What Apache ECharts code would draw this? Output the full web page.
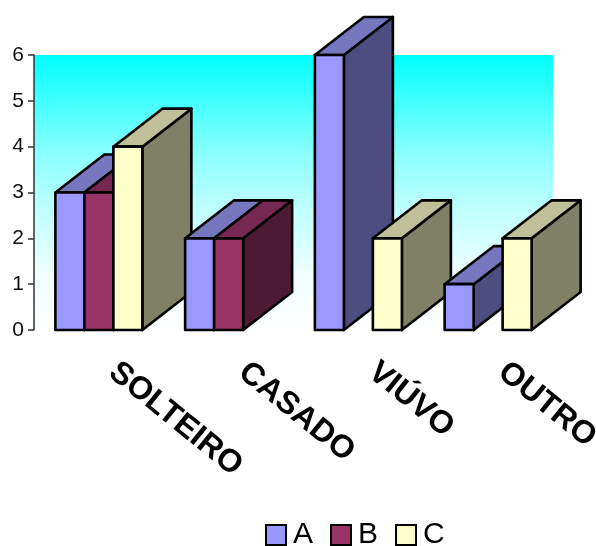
<!DOCTYPE html>
<html>
<head>
<meta charset="utf-8">
<style>
  html, body { margin: 0; padding: 0; background: #fff; }
  #chart { width: 596px; height: 546px; }
</style>
<script src="https://cdn.jsdelivr.net/npm/echarts@6/dist/echarts.min.js"></script>
</head>
<body>
<div id="chart"></div>
<script>
const categories = ['SOLTEIRO', 'CASADO', 'VIÚVO', 'OUTRO'];
const seriesNames = ['A', 'B', 'C'];
const valuesA = [3, 2, 6, 1];
const valuesB = [3, 2, null, null];
const valuesC = [4, null, 2, 2];
const yTicks = [0, 1, 2, 3, 4, 5, 6];

const frontColors = ['#9999ff', '#993366', '#ffffcc'];
const topColors = ['#7777bf', '#772850', '#bfbf99'];
const sideColors = ['#4d4d80', '#4d1a33', '#808066'];

const DEPTH_X = 49;
const DEPTH_Y = 38;
const BAR_SHARE = 0.2235;

const chart = echarts.init(document.getElementById('chart'), null, { renderer: 'canvas' });

// extruded bar: front, top and side faces, later categories sit in front
function renderBar(seriesIdx) {
    return function (params, api) {
        const cat = api.value(0);
        const val = api.value(1);
        if (val === null || isNaN(val)) return;

        const barW = api.size([1, 0])[0] * BAR_SHARE;
        const center = api.coord([cat, 0]);
        const x0 = center[0] + (seriesIdx - 1.5) * barW;
        const x1 = x0 + barW;
        const yBase = center[1];
        const yTop = api.coord([cat, val])[1];
        const z2 = cat * 10 + seriesIdx;
        const stroke = { stroke: '#000', lineWidth: 2.6, lineJoin: 'round' };

        const face = (points, fill) => ({
            type: 'polygon',
            z2: z2,
            shape: { points: points },
            style: Object.assign({ fill: fill }, stroke)
        });

        return {
            type: 'group',
            children: [
                face([[x1, yBase], [x1, yTop], [x1 + DEPTH_X, yTop - DEPTH_Y], [x1 + DEPTH_X, yBase - DEPTH_Y]], sideColors[seriesIdx]),
                face([[x0, yTop], [x1, yTop], [x1 + DEPTH_X, yTop - DEPTH_Y], [x0 + DEPTH_X, yTop - DEPTH_Y]], topColors[seriesIdx]),
                face([[x0, yBase], [x1, yBase], [x1, yTop], [x0, yTop]], frontColors[seriesIdx])
            ]
        };
    };
}

function makeSeries(values, idx) {
    return {
        name: seriesNames[idx],
        type: 'custom',
        clip: false,
        renderItem: renderBar(idx),
        encode: { x: 0, y: 1 },
        itemStyle: { color: frontColors[idx], borderColor: '#000', borderWidth: 2.6 },
        data: values.map((v, i) => [i, v])
    };
}

chart.setOption({
    animation: false,
    backgroundColor: '#fff',
    textStyle: { fontFamily: 'Liberation Sans' },
    grid: {
        show: true,
        left: 34,
        right: 43,
        top: 55,
        bottom: 216,
        outerBoundsMode: 'none',
        borderWidth: 0,
        backgroundColor: new echarts.graphic.LinearGradient(0, 0, 0, 1, [
            { offset: 0, color: '#00ffff' },
            { offset: 0.35, color: '#88ffff' },
            { offset: 0.53, color: '#b8ffff' },
            { offset: 0.8, color: '#f0ffff' },
            { offset: 1, color: '#ffffff' }
        ])
    },
    legend: {
        left: 265,
        top: 520,
        padding: 0,
        itemWidth: 20,
        itemHeight: 20,
        itemGap: 17,
        icon: 'rect',
        selectedMode: false,
        data: seriesNames,
        textStyle: { fontSize: 30, color: '#000', fontFamily: 'Liberation Sans', padding: [0, 0, 0, 2] }
    },
    xAxis: {
        type: 'category',
        data: categories,
        axisLine: { show: false },
        axisTick: { show: false },
        axisLabel: {
            interval: 0,
            rotate: -39,
            margin: 27,
            padding: [0, 0, 0, 18],
            fontSize: 32,
            fontWeight: 'bold',
            color: '#000',
            fontFamily: 'Liberation Sans'
        }
    },
    yAxis: {
        type: 'value',
        min: yTicks[0],
        max: yTicks[yTicks.length - 1],
        interval: 1,
        splitLine: { show: false },
        axisLine: { show: true, lineStyle: { color: '#333', width: 1.5 } },
        axisTick: { show: true, length: 6, lineStyle: { color: '#333', width: 1.5 } },
        axisLabel: { fontSize: 21, color: '#111', margin: 10, fontFamily: 'Liberation Sans' }
    },
    series: [valuesA, valuesB, valuesC].map(makeSeries)
});
</script>
</body>
</html>
